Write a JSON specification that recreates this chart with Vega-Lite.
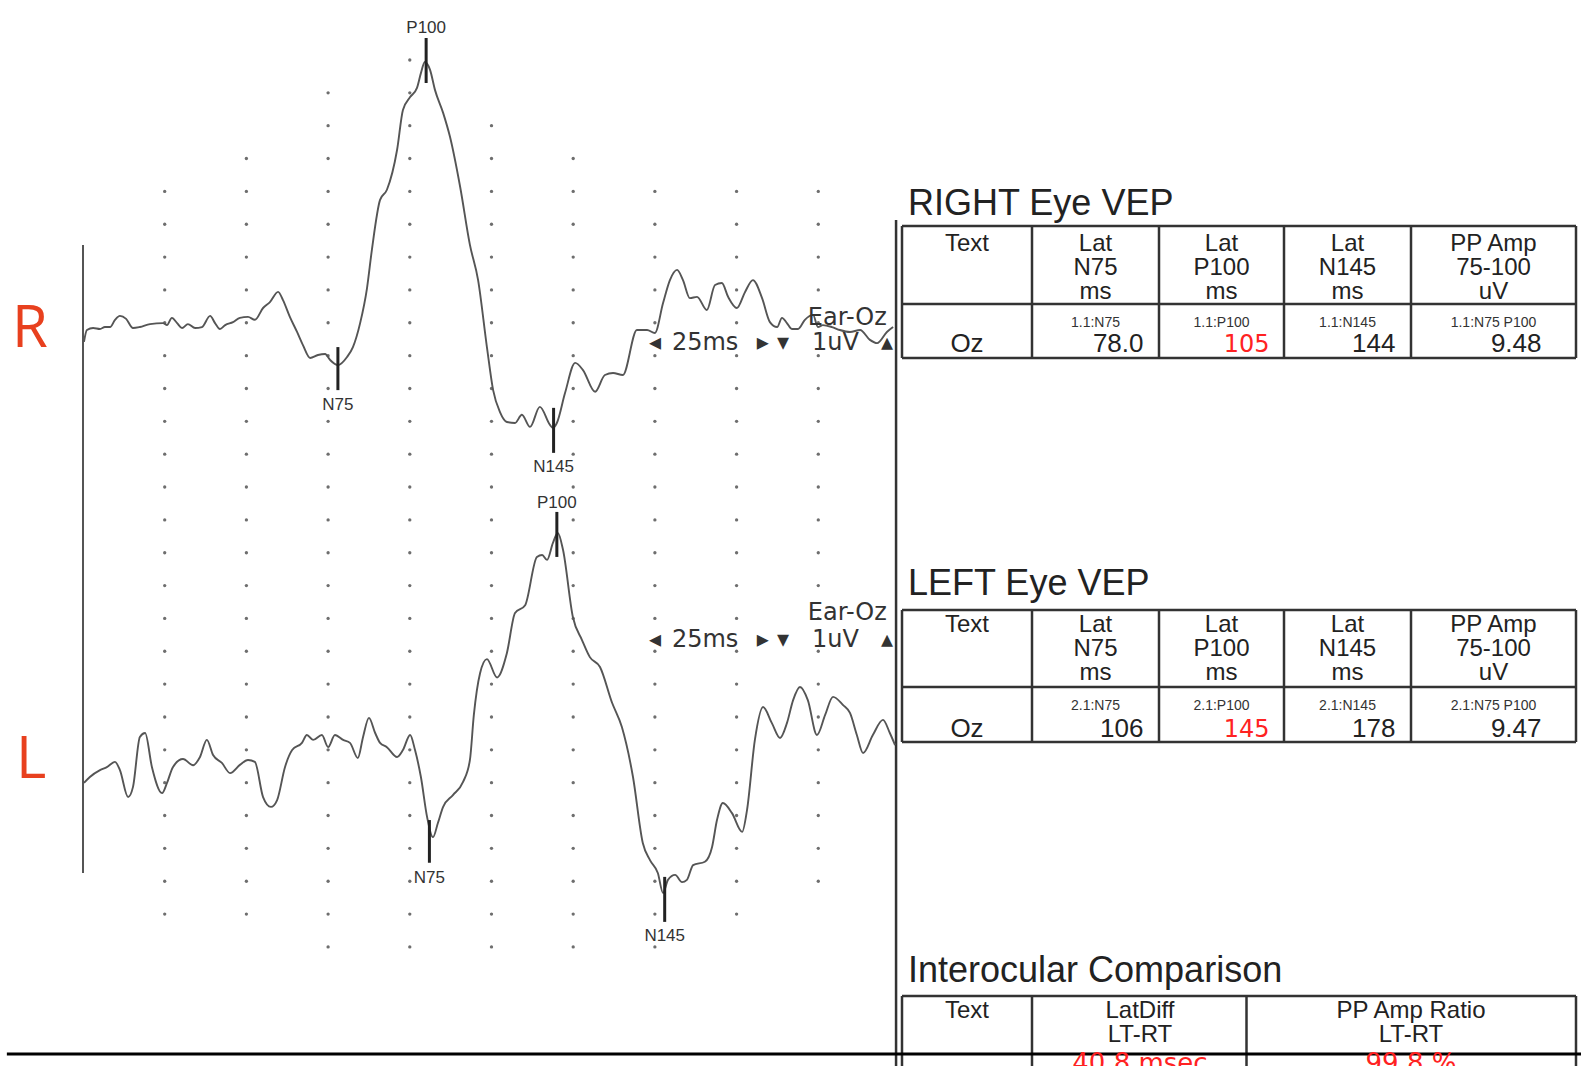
{
"$schema": "https://vega.github.io/schema/vega-lite/v6.json",
"background": "white",
"padding": 0,
"spacing": 0,
"bounds": "flush",
"config": {"view": {"stroke": null}, "font": "Liberation Sans"},
"datasets": {
"rtrace": [{"t":0.3,"v":-0.58},{"t":1.2,"v":-0.22},{"t":3.1,"v":-0.16},{"t":5.2,"v":-0.19},{"t":6.7,"v":-0.13},{"t":8.3,"v":-0.13},{"t":9.8,"v":0.09},{"t":11.3,"v":0.21},{"t":13.2,"v":0.12},{"t":15.3,"v":-0.16},{"t":17.4,"v":-0.13},{"t":20.5,"v":-0.04},{"t":24.5,"v":-0.01},{"t":25.7,"v":-0.07},{"t":27.2,"v":0.15},{"t":28.8,"v":-0.01},{"t":30.3,"v":-0.16},{"t":32.1,"v":-0.04},{"t":34.3,"v":-0.16},{"t":36.4,"v":-0.13},{"t":38.9,"v":0.21},{"t":40.4,"v":-0.01},{"t":41.9,"v":-0.19},{"t":43.5,"v":-0.07},{"t":45.9,"v":0.02},{"t":48.0,"v":0.15},{"t":50.5,"v":0.18},{"t":52.6,"v":0.09},{"t":55.1,"v":0.45},{"t":57.2,"v":0.63},{"t":59.7,"v":0.94},{"t":61.2,"v":0.69},{"t":63.3,"v":0.18},{"t":65.5,"v":-0.28},{"t":67.3,"v":-0.68},{"t":69.5,"v":-1.07},{"t":71.9,"v":-0.98},{"t":74.1,"v":-0.95},{"t":75.6,"v":-1.13},{"t":78.0,"v":-1.29},{"t":80.8,"v":-1.04},{"t":82.6,"v":-0.74},{"t":84.8,"v":-0.01},{"t":86.9,"v":1.05},{"t":88.4,"v":2.22},{"t":90.9,"v":3.74},{"t":93.0,"v":4.05},{"t":96.1,"v":5.26},{"t":97.9,"v":6.48},{"t":100.1,"v":6.87},{"t":102.2,"v":7.15},{"t":103.4,"v":7.60},{"t":104.6,"v":7.94},{"t":106.2,"v":7.70},{"t":107.7,"v":7.09},{"t":110.2,"v":6.39},{"t":112.3,"v":5.66},{"t":115.4,"v":4.14},{"t":118.4,"v":2.37},{"t":120.9,"v":1.30},{"t":123.6,"v":-0.74},{"t":125.5,"v":-2.05},{"t":127.6,"v":-2.72},{"t":129.7,"v":-3.02},{"t":132.2,"v":-3.05},{"t":134.3,"v":-2.80},{"t":136.8,"v":-3.17},{"t":139.8,"v":-2.56},{"t":142.9,"v":-3.11},{"t":143.8,"v":-3.20},{"t":145.0,"v":-3.05},{"t":147.5,"v":-2.14},{"t":150.6,"v":-1.22},{"t":153.0,"v":-1.44},{"t":156.7,"v":-2.10},{"t":159.7,"v":-1.59},{"t":162.2,"v":-1.53},{"t":165.2,"v":-1.59},{"t":169.5,"v":-0.22},{"t":172.6,"v":-0.22},{"t":175.0,"v":-0.31},{"t":177.5,"v":0.60},{"t":179.6,"v":1.30},{"t":181.8,"v":1.61},{"t":183.6,"v":1.30},{"t":185.7,"v":0.75},{"t":187.9,"v":0.79},{"t":190.9,"v":0.39},{"t":193.4,"v":1.15},{"t":195.5,"v":1.21},{"t":197.4,"v":0.79},{"t":200.1,"v":0.45},{"t":202.6,"v":0.94},{"t":205.0,"v":1.30},{"t":207.8,"v":0.75},{"t":210.2,"v":0.02},{"t":212.4,"v":-0.13},{"t":213.9,"v":0.15},{"t":215.4,"v":-0.01},{"t":216.9,"v":-0.19},{"t":218.8,"v":-0.19},{"t":220.9,"v":0.09},{"t":223.4,"v":0.24},{"t":224.9,"v":-0.13},{"t":226.4,"v":-0.07},{"t":229.2,"v":-0.13},{"t":231.6,"v":-0.22},{"t":234.7,"v":-0.28},{"t":237.8,"v":-0.22},{"t":240.8,"v":-0.52},{"t":243.0,"v":-0.62},{"t":246.0,"v":-0.28},{"t":247.9,"v":-0.13}],
"ltrace": [{"t":0.3,"v":-0.01},{"t":2.1,"v":0.17},{"t":5.2,"v":0.38},{"t":7.3,"v":0.47},{"t":9.8,"v":0.63},{"t":11.3,"v":0.38},{"t":13.8,"v":-0.44},{"t":15.3,"v":-0.13},{"t":17.4,"v":1.39},{"t":19.0,"v":1.51},{"t":21.1,"v":0.47},{"t":24.2,"v":-0.32},{"t":25.7,"v":-0.01},{"t":27.5,"v":0.47},{"t":30.6,"v":0.72},{"t":33.7,"v":0.53},{"t":35.8,"v":0.78},{"t":37.9,"v":1.30},{"t":39.8,"v":0.84},{"t":42.5,"v":0.60},{"t":45.0,"v":0.29},{"t":48.0,"v":0.54},{"t":50.5,"v":0.69},{"t":52.6,"v":0.63},{"t":55.1,"v":-0.44},{"t":57.5,"v":-0.74},{"t":59.4,"v":-0.53},{"t":61.8,"v":0.47},{"t":64.0,"v":0.99},{"t":67.0,"v":1.21},{"t":68.5,"v":1.45},{"t":70.4,"v":1.30},{"t":73.1,"v":1.45},{"t":75.0,"v":1.08},{"t":77.1,"v":1.45},{"t":79.6,"v":1.30},{"t":81.7,"v":1.21},{"t":84.1,"v":0.75},{"t":85.7,"v":1.39},{"t":87.5,"v":1.97},{"t":89.4,"v":1.51},{"t":90.9,"v":1.21},{"t":93.0,"v":1.08},{"t":96.1,"v":0.78},{"t":97.9,"v":0.99},{"t":100.1,"v":1.45},{"t":101.6,"v":0.99},{"t":103.4,"v":0.17},{"t":105.3,"v":-1.05},{"t":107.1,"v":-1.66},{"t":108.6,"v":-1.23},{"t":110.2,"v":-0.74},{"t":113.2,"v":-0.38},{"t":116.3,"v":0.02},{"t":118.4,"v":0.69},{"t":119.6,"v":2.06},{"t":121.5,"v":3.33},{"t":123.6,"v":3.76},{"t":126.7,"v":3.20},{"t":129.7,"v":3.94},{"t":132.2,"v":5.16},{"t":135.3,"v":5.40},{"t":138.9,"v":6.87},{"t":140.5,"v":6.93},{"t":142.0,"v":6.78},{"t":143.8,"v":7.30},{"t":145.3,"v":7.60},{"t":146.9,"v":7.08},{"t":149.9,"v":5.04},{"t":152.7,"v":4.34},{"t":155.1,"v":3.82},{"t":158.2,"v":3.52},{"t":161.9,"v":2.43},{"t":164.9,"v":1.69},{"t":168.3,"v":0.17},{"t":171.3,"v":-1.84},{"t":173.5,"v":-2.36},{"t":175.9,"v":-2.75},{"t":177.5,"v":-3.36},{"t":179.0,"v":-2.96},{"t":181.2,"v":-2.81},{"t":183.3,"v":-3.03},{"t":184.8,"v":-2.96},{"t":186.7,"v":-2.51},{"t":190.3,"v":-2.41},{"t":192.5,"v":-1.96},{"t":194.0,"v":-1.14},{"t":195.8,"v":-0.62},{"t":198.6,"v":-0.93},{"t":201.7,"v":-1.50},{"t":203.2,"v":-0.83},{"t":205.6,"v":1.30},{"t":208.1,"v":2.30},{"t":210.8,"v":1.81},{"t":213.3,"v":1.36},{"t":215.4,"v":1.81},{"t":217.3,"v":2.51},{"t":219.4,"v":2.91},{"t":221.8,"v":2.51},{"t":224.6,"v":1.45},{"t":227.1,"v":2.06},{"t":229.5,"v":2.61},{"t":232.6,"v":2.36},{"t":234.7,"v":2.12},{"t":236.8,"v":1.45},{"t":238.7,"v":0.90},{"t":241.7,"v":1.45},{"t":244.8,"v":1.91},{"t":246.9,"v":1.51},{"t":248.5,"v":1.14}],
"grid": [
{"t":25,"v":4},{"t":25,"v":3},{"t":25,"v":2},{"t":25,"v":1},{"t":25,"v":0},{"t":25,"v":-1},{"t":25,"v":-2},{"t":25,"v":-3},{"t":25,"v":-4},{"t":25,"v":-5},{"t":25,"v":-6},{"t":25,"v":-7},{"t":25,"v":-8},{"t":25,"v":-9},{"t":25,"v":-10},{"t":25,"v":-11},{"t":25,"v":-12},{"t":25,"v":-13},{"t":25,"v":-14},{"t":25,"v":-15},{"t":25,"v":-16},{"t":25,"v":-17},{"t":25,"v":-18},
{"t":50,"v":5},{"t":50,"v":4},{"t":50,"v":3},{"t":50,"v":2},{"t":50,"v":1},{"t":50,"v":0},{"t":50,"v":-1},{"t":50,"v":-2},{"t":50,"v":-3},{"t":50,"v":-4},{"t":50,"v":-5},{"t":50,"v":-6},{"t":50,"v":-7},{"t":50,"v":-8},{"t":50,"v":-9},{"t":50,"v":-10},{"t":50,"v":-11},{"t":50,"v":-12},{"t":50,"v":-13},{"t":50,"v":-14},{"t":50,"v":-15},{"t":50,"v":-16},{"t":50,"v":-17},{"t":50,"v":-18},
{"t":75,"v":7},{"t":75,"v":6},{"t":75,"v":5},{"t":75,"v":4},{"t":75,"v":3},{"t":75,"v":2},{"t":75,"v":1},{"t":75,"v":0},{"t":75,"v":-1},{"t":75,"v":-2},{"t":75,"v":-3},{"t":75,"v":-4},{"t":75,"v":-5},{"t":75,"v":-6},{"t":75,"v":-7},{"t":75,"v":-8},{"t":75,"v":-9},{"t":75,"v":-10},{"t":75,"v":-11},{"t":75,"v":-12},{"t":75,"v":-13},{"t":75,"v":-14},{"t":75,"v":-15},{"t":75,"v":-16},{"t":75,"v":-17},{"t":75,"v":-18},{"t":75,"v":-19},
{"t":100,"v":8},{"t":100,"v":7},{"t":100,"v":6},{"t":100,"v":5},{"t":100,"v":4},{"t":100,"v":3},{"t":100,"v":2},{"t":100,"v":1},{"t":100,"v":0},{"t":100,"v":-1},{"t":100,"v":-2},{"t":100,"v":-3},{"t":100,"v":-4},{"t":100,"v":-5},{"t":100,"v":-6},{"t":100,"v":-7},{"t":100,"v":-8},{"t":100,"v":-9},{"t":100,"v":-10},{"t":100,"v":-11},{"t":100,"v":-12},{"t":100,"v":-13},{"t":100,"v":-14},{"t":100,"v":-15},{"t":100,"v":-16},{"t":100,"v":-17},{"t":100,"v":-18},{"t":100,"v":-19},
{"t":125,"v":6},{"t":125,"v":5},{"t":125,"v":4},{"t":125,"v":3},{"t":125,"v":2},{"t":125,"v":1},{"t":125,"v":0},{"t":125,"v":-1},{"t":125,"v":-2},{"t":125,"v":-3},{"t":125,"v":-4},{"t":125,"v":-5},{"t":125,"v":-6},{"t":125,"v":-7},{"t":125,"v":-8},{"t":125,"v":-9},{"t":125,"v":-10},{"t":125,"v":-11},{"t":125,"v":-12},{"t":125,"v":-13},{"t":125,"v":-14},{"t":125,"v":-15},{"t":125,"v":-16},{"t":125,"v":-17},{"t":125,"v":-18},{"t":125,"v":-19},
{"t":150,"v":5},{"t":150,"v":4},{"t":150,"v":3},{"t":150,"v":2},{"t":150,"v":1},{"t":150,"v":0},{"t":150,"v":-1},{"t":150,"v":-2},{"t":150,"v":-3},{"t":150,"v":-4},{"t":150,"v":-5},{"t":150,"v":-6},{"t":150,"v":-7},{"t":150,"v":-8},{"t":150,"v":-9},{"t":150,"v":-10},{"t":150,"v":-11},{"t":150,"v":-12},{"t":150,"v":-13},{"t":150,"v":-14},{"t":150,"v":-15},{"t":150,"v":-16},{"t":150,"v":-17},{"t":150,"v":-18},{"t":150,"v":-19},
{"t":175,"v":4},{"t":175,"v":3},{"t":175,"v":2},{"t":175,"v":1},{"t":175,"v":0},{"t":175,"v":-1},{"t":175,"v":-2},{"t":175,"v":-3},{"t":175,"v":-4},{"t":175,"v":-5},{"t":175,"v":-6},{"t":175,"v":-7},{"t":175,"v":-8},{"t":175,"v":-9},{"t":175,"v":-10},{"t":175,"v":-11},{"t":175,"v":-12},{"t":175,"v":-13},{"t":175,"v":-14},{"t":175,"v":-15},{"t":175,"v":-16},{"t":175,"v":-17},{"t":175,"v":-18},{"t":175,"v":-19},
{"t":200,"v":4},{"t":200,"v":3},{"t":200,"v":2},{"t":200,"v":1},{"t":200,"v":0},{"t":200,"v":-1},{"t":200,"v":-2},{"t":200,"v":-3},{"t":200,"v":-4},{"t":200,"v":-5},{"t":200,"v":-6},{"t":200,"v":-7},{"t":200,"v":-8},{"t":200,"v":-9},{"t":200,"v":-10},{"t":200,"v":-11},{"t":200,"v":-12},{"t":200,"v":-13},{"t":200,"v":-14},{"t":200,"v":-15},{"t":200,"v":-16},{"t":200,"v":-17},{"t":200,"v":-18},
{"t":225,"v":4},{"t":225,"v":3},{"t":225,"v":2},{"t":225,"v":1},{"t":225,"v":0},{"t":225,"v":-1},{"t":225,"v":-2},{"t":225,"v":-3},{"t":225,"v":-4},{"t":225,"v":-5},{"t":225,"v":-6},{"t":225,"v":-7},{"t":225,"v":-8},{"t":225,"v":-9},{"t":225,"v":-10},{"t":225,"v":-11},{"t":225,"v":-12},{"t":225,"v":-13},{"t":225,"v":-14},{"t":225,"v":-15},{"t":225,"v":-16},{"t":225,"v":-17}
],
"markers": [
{"trace":"R","name":"N75","t":78.0,"top":-0.74,"bot":-2.05,"ly":-2.66},
{"trace":"R","name":"P100","t":105,"top":8.67,"bot":7.30,"ly":8.82},
{"trace":"R","name":"N145","t":144,"top":-2.59,"bot":-3.96,"ly":-4.54},
{"trace":"L","name":"N75","t":106,"top":-1.14,"bot":-2.44,"ly":-3.05},
{"trace":"L","name":"P100","t":145,"top":8.24,"bot":6.87,"ly":8.36},
{"trace":"L","name":"N145","t":178,"top":-2.87,"bot":-4.24,"ly":-4.82}
],
"annot": [
{"trace":"R","text":"Ear-Oz","t":221.8,"v":-0.07},
{"trace":"R","text":"◂","t":173.2,"v":-0.84},
{"trace":"R","text":"25ms","t":180.2,"v":-0.84},
{"trace":"R","text":"▸","t":206.2,"v":-0.84},
{"trace":"R","text":"▾","t":212.4,"v":-0.84},
{"trace":"R","text":"1uV","t":223.1,"v":-0.84},
{"trace":"R","text":"▴","t":244.2,"v":-0.84},
{"trace":"L","text":"Ear-Oz","t":221.8,"v":4.95},
{"trace":"L","text":"◂","t":173.2,"v":4.13},
{"trace":"L","text":"25ms","t":180.2,"v":4.13},
{"trace":"L","text":"▸","t":206.2,"v":4.13},
{"trace":"L","text":"▾","t":212.4,"v":4.13},
{"trace":"L","text":"1uV","t":223.1,"v":4.13},
{"trace":"L","text":"▴","t":244.2,"v":4.13}
],
"eyes": [
{"trace":"R","text":"R","t":-21.7,"v":-0.74},
{"trace":"L","text":"L","t":-20.5,"v":0.14}
],
"cells": [
{"kind":"title","c":0,"ln":0,"text":"RIGHT Eye VEP"},
{"kind":"title","c":0,"ln":10,"text":"LEFT Eye VEP"},
{"kind":"title","c":0,"ln":20,"text":"Interocular Comparison"},
{"kind":"head","c":0.5,"ln":2,"text":"Text"},
{"kind":"head","c":1.5,"ln":2,"text":"Lat"},{"kind":"head","c":1.5,"ln":3,"text":"N75"},{"kind":"head","c":1.5,"ln":4,"text":"ms"},
{"kind":"head","c":2.5,"ln":2,"text":"Lat"},{"kind":"head","c":2.5,"ln":3,"text":"P100"},{"kind":"head","c":2.5,"ln":4,"text":"ms"},
{"kind":"head","c":3.5,"ln":2,"text":"Lat"},{"kind":"head","c":3.5,"ln":3,"text":"N145"},{"kind":"head","c":3.5,"ln":4,"text":"ms"},
{"kind":"head","c":4.5,"ln":2,"text":"PP Amp"},{"kind":"head","c":4.5,"ln":3,"text":"75-100"},{"kind":"head","c":4.5,"ln":4,"text":"uV"},
{"kind":"head","c":0.5,"ln":12,"text":"Text"},
{"kind":"head","c":1.5,"ln":12,"text":"Lat"},{"kind":"head","c":1.5,"ln":13,"text":"N75"},{"kind":"head","c":1.5,"ln":14,"text":"ms"},
{"kind":"head","c":2.5,"ln":12,"text":"Lat"},{"kind":"head","c":2.5,"ln":13,"text":"P100"},{"kind":"head","c":2.5,"ln":14,"text":"ms"},
{"kind":"head","c":3.5,"ln":12,"text":"Lat"},{"kind":"head","c":3.5,"ln":13,"text":"N145"},{"kind":"head","c":3.5,"ln":14,"text":"ms"},
{"kind":"head","c":4.5,"ln":12,"text":"PP Amp"},{"kind":"head","c":4.5,"ln":13,"text":"75-100"},{"kind":"head","c":4.5,"ln":14,"text":"uV"},
{"kind":"head","c":0.5,"ln":22,"text":"Text"},
{"kind":"head","c":1.85,"ln":22,"text":"LatDiff"},{"kind":"head","c":1.85,"ln":23,"text":"LT-RT"},
{"kind":"head","c":4,"ln":22,"text":"PP Amp Ratio"},{"kind":"head","c":4,"ln":23,"text":"LT-RT"},
{"kind":"sub","c":1.5,"ln":6,"text":"1.1:N75"},{"kind":"sub","c":2.5,"ln":6,"text":"1.1:P100"},{"kind":"sub","c":3.5,"ln":6,"text":"1.1:N145"},{"kind":"sub","c":4.5,"ln":6,"text":"1.1:N75 P100"},
{"kind":"sub","c":1.5,"ln":16,"text":"2.1:N75"},{"kind":"sub","c":2.5,"ln":16,"text":"2.1:P100"},{"kind":"sub","c":3.5,"ln":16,"text":"2.1:N145"},{"kind":"sub","c":4.5,"ln":16,"text":"2.1:N75 P100"},
{"kind":"site","c":0.5,"ln":7,"text":"Oz"},{"kind":"site","c":0.5,"ln":17,"text":"Oz"},
{"kind":"val","c":1.5,"ln":7,"text":"78.0"},{"kind":"val","c":3.5,"ln":7,"text":"144"},{"kind":"val","c":4.5,"ln":7,"text":"9.48"},
{"kind":"val","c":1.5,"ln":17,"text":"106"},{"kind":"val","c":3.5,"ln":17,"text":"178"},{"kind":"val","c":4.5,"ln":17,"text":"9.47"},
{"kind":"abn","c":2.5,"ln":7,"text":"105"},{"kind":"abn","c":2.5,"ln":17,"text":"145"},
{"kind":"cmp","c":1.85,"ln":26,"text":"40.8 msec"},{"kind":"cmp","c":4,"ln":26,"text":"99.8 %"}
],
"borders": [
{"seg":"r-top","c":0,"ln":1},{"seg":"r-top","c":5,"ln":1},
{"seg":"r-sep","c":0,"ln":5},{"seg":"r-sep","c":5,"ln":5},
{"seg":"r-bot","c":0,"ln":8},{"seg":"r-bot","c":5,"ln":8},
{"seg":"r-v0","c":0,"ln":1},{"seg":"r-v0","c":0,"ln":8},
{"seg":"r-v1","c":1,"ln":1},{"seg":"r-v1","c":1,"ln":8},
{"seg":"r-v2","c":2,"ln":1},{"seg":"r-v2","c":2,"ln":8},
{"seg":"r-v3","c":3,"ln":1},{"seg":"r-v3","c":3,"ln":8},
{"seg":"r-v4","c":4,"ln":1},{"seg":"r-v4","c":4,"ln":8},
{"seg":"r-v5","c":5,"ln":1},{"seg":"r-v5","c":5,"ln":8},
{"seg":"l-top","c":0,"ln":11},{"seg":"l-top","c":5,"ln":11},
{"seg":"l-sep","c":0,"ln":15},{"seg":"l-sep","c":5,"ln":15},
{"seg":"l-bot","c":0,"ln":18},{"seg":"l-bot","c":5,"ln":18},
{"seg":"l-v0","c":0,"ln":11},{"seg":"l-v0","c":0,"ln":18},
{"seg":"l-v1","c":1,"ln":11},{"seg":"l-v1","c":1,"ln":18},
{"seg":"l-v2","c":2,"ln":11},{"seg":"l-v2","c":2,"ln":18},
{"seg":"l-v3","c":3,"ln":11},{"seg":"l-v3","c":3,"ln":18},
{"seg":"l-v4","c":4,"ln":11},{"seg":"l-v4","c":4,"ln":18},
{"seg":"l-v5","c":5,"ln":11},{"seg":"l-v5","c":5,"ln":18},
{"seg":"i-top","c":0,"ln":21},{"seg":"i-top","c":5,"ln":21},
{"seg":"i-v0","c":0,"ln":21},{"seg":"i-v0","c":0,"ln":26},
{"seg":"i-v1","c":1,"ln":21},{"seg":"i-v1","c":1,"ln":26},
{"seg":"i-v2","c":2.7,"ln":21},{"seg":"i-v2","c":2.7,"ln":26},
{"seg":"i-v3","c":5,"ln":21},{"seg":"i-v3","c":5,"ln":26}
]
},
"hconcat": [
{
"width": 899,
"height": 1066,
"encoding": {"x": {"field": "t", "type": "quantitative", "axis": null, "scale": {"domain": [-25.4, 249.7], "nice": false, "zero": false}}},
"layer": [
{
"encoding": {"y": {"field": "v", "type": "quantitative", "axis": null, "scale": {"domain": [-22.625, 9.826], "nice": false, "zero": false}}},
"layer": [
{"data": {"name": "grid"}, "mark": {"type": "point", "filled": true, "size": 11, "color": "#6e6e6e", "opacity": 1}},
{"data": {"values": [{"t": 0, "v": 2.37, "v2": -16.75}]}, "mark": {"type": "rule", "color": "#555555", "strokeWidth": 2}, "encoding": {"y2": {"field": "v2"}}},
{"data": {"values": [{"t": 248.8, "v": 3.13, "v2": -22.625}]}, "mark": {"type": "rule", "color": "#333333", "strokeWidth": 2.5, "clip": true}, "encoding": {"y2": {"field": "v2"}}},
{"data": {"values": [{"t": -23.3, "t2": 249.7, "v": -22.26}]}, "mark": {"type": "rule", "color": "#000000", "strokeWidth": 3}, "encoding": {"x2": {"field": "t2"}}},
{"data": {"name": "rtrace"}, "mark": {"type": "line", "color": "#555555", "strokeWidth": 1.9, "interpolate": "monotone"}},
{"data": {"name": "markers"}, "transform": [{"filter": "datum.trace === 'R'"}], "mark": {"type": "rule", "color": "#222222", "strokeWidth": 3}, "encoding": {"y": {"field": "top", "type": "quantitative", "axis": null, "scale": {"domain": [-22.625, 9.826], "nice": false, "zero": false}}, "y2": {"field": "bot"}}},
{"data": {"name": "markers"}, "transform": [{"filter": "datum.trace === 'R'"}], "mark": {"type": "text", "font": "Liberation Sans Narrow, Liberation Sans", "fontSize": 17, "color": "#333333", "align": "center", "baseline": "alphabetic"}, "encoding": {"y": {"field": "ly", "type": "quantitative", "axis": null, "scale": {"domain": [-22.625, 9.826], "nice": false, "zero": false}}, "text": {"field": "name"}}},
{"data": {"name": "annot"}, "transform": [{"filter": "datum.trace === 'R'"}], "mark": {"type": "text", "font": "DejaVu Sans", "fontSize": 24, "color": "#333333", "align": "left", "baseline": "alphabetic"}, "encoding": {"text": {"field": "text"}}},
{"data": {"name": "eyes"}, "transform": [{"filter": "datum.trace === 'R'"}], "mark": {"type": "text", "font": "Open Sans", "fontSize": 58, "color": "#e8401e", "align": "left", "baseline": "alphabetic"}, "encoding": {"text": {"field": "text"}}}
]
},
{
"encoding": {"y": {"field": "v", "type": "quantitative", "axis": null, "scale": {"domain": [-8.627, 23.824], "nice": false, "zero": false}}},
"layer": [
{"data": {"name": "ltrace"}, "mark": {"type": "line", "color": "#555555", "strokeWidth": 1.9, "interpolate": "monotone"}},
{"data": {"name": "markers"}, "transform": [{"filter": "datum.trace === 'L'"}], "mark": {"type": "rule", "color": "#222222", "strokeWidth": 3}, "encoding": {"y": {"field": "top", "type": "quantitative", "axis": null, "scale": {"domain": [-8.627, 23.824], "nice": false, "zero": false}}, "y2": {"field": "bot"}}},
{"data": {"name": "markers"}, "transform": [{"filter": "datum.trace === 'L'"}], "mark": {"type": "text", "font": "Liberation Sans Narrow, Liberation Sans", "fontSize": 17, "color": "#333333", "align": "center", "baseline": "alphabetic"}, "encoding": {"y": {"field": "ly", "type": "quantitative", "axis": null, "scale": {"domain": [-8.627, 23.824], "nice": false, "zero": false}}, "text": {"field": "name"}}},
{"data": {"name": "annot"}, "transform": [{"filter": "datum.trace === 'L'"}], "mark": {"type": "text", "font": "DejaVu Sans", "fontSize": 24, "color": "#333333", "align": "left", "baseline": "alphabetic"}, "encoding": {"text": {"field": "text"}}},
{"data": {"name": "eyes"}, "transform": [{"filter": "datum.trace === 'L'"}], "mark": {"type": "text", "font": "Open Sans", "fontSize": 58, "color": "#e8401e", "align": "left", "baseline": "alphabetic"}, "encoding": {"text": {"field": "text"}}}
]
}
],
"resolve": {"scale": {"y": "independent"}}
},
{
"width": 682,
"height": 1066,
"encoding": {
"x": {"field": "c", "type": "quantitative", "axis": null, "scale": {"domain": [-0.1, 0, 1, 2, 3, 4, 5, 5.1], "range": [0, 3, 133, 260, 385, 512, 677, 682], "nice": false, "zero": false}},
"y": {"field": "ln", "type": "quantitative", "axis": null, "scale": {"domain": [0, 1, 2, 3, 4, 5, 6, 7, 8, 10, 11, 12, 13, 14, 15, 16, 17, 18, 20, 21, 22, 23, 25, 26], "range": [215, 226, 251, 275, 299, 304, 327, 352, 358, 595, 610, 632, 656, 680, 687, 710, 737, 742, 982, 996, 1018, 1042, 1054, 1072], "nice": false, "zero": false}}
},
"layer": [
{"data": {"name": "borders"}, "mark": {"type": "line", "color": "#333333", "strokeWidth": 2.5, "clip": true}, "encoding": {"detail": {"field": "seg"}}},
{"data": {"values": [{"c": -0.1, "c2": 5.1, "ln": 25}]}, "mark": {"type": "rule", "color": "#000000", "strokeWidth": 3}, "encoding": {"x2": {"field": "c2"}}},
{"data": {"name": "cells"}, "transform": [{"filter": "datum.kind === 'title'"}], "mark": {"type": "text", "font": "Liberation Sans", "fontSize": 36, "color": "#222222", "align": "left", "baseline": "alphabetic", "dx": 6}, "encoding": {"text": {"field": "text"}}},
{"data": {"name": "cells"}, "transform": [{"filter": "datum.kind === 'head'"}], "mark": {"type": "text", "font": "Liberation Sans", "fontSize": 24, "color": "#222222", "align": "center", "baseline": "alphabetic"}, "encoding": {"text": {"field": "text"}}},
{"data": {"name": "cells"}, "transform": [{"filter": "datum.kind === 'sub'"}], "mark": {"type": "text", "font": "Liberation Sans", "fontSize": 14, "color": "#333333", "align": "center", "baseline": "alphabetic"}, "encoding": {"text": {"field": "text"}}},
{"data": {"name": "cells"}, "transform": [{"filter": "datum.kind === 'site'"}], "mark": {"type": "text", "font": "Liberation Sans", "fontSize": 26, "color": "#222222", "align": "center", "baseline": "alphabetic"}, "encoding": {"text": {"field": "text"}}},
{"data": {"name": "cells"}, "transform": [{"filter": "datum.kind === 'val'"}], "mark": {"type": "text", "font": "Liberation Sans", "fontSize": 26, "color": "#222222", "align": "right", "baseline": "alphabetic", "dx": 48}, "encoding": {"text": {"field": "text"}}},
{"data": {"name": "cells"}, "transform": [{"filter": "datum.kind === 'abn'"}], "mark": {"type": "text", "font": "DejaVu Sans", "fontSize": 24, "color": "#ff2222", "align": "right", "baseline": "alphabetic", "dx": 48}, "encoding": {"text": {"field": "text"}}},
{"data": {"name": "cells"}, "transform": [{"filter": "datum.kind === 'cmp'"}], "mark": {"type": "text", "font": "DejaVu Sans", "fontSize": 26, "color": "#ff2222", "align": "center", "baseline": "alphabetic", "clip": true}, "encoding": {"text": {"field": "text"}}}
]
}
]
}
